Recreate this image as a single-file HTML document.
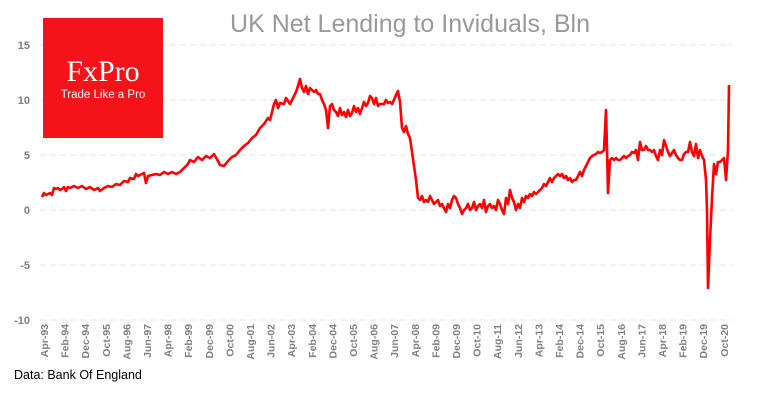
<!DOCTYPE html>
<html><head><meta charset="utf-8"><style>
body{margin:0;background:#fff;width:770px;height:400px;overflow:hidden;font-family:"Liberation Sans",sans-serif}
</style></head><body>
<svg width="770" height="400" xmlns="http://www.w3.org/2000/svg">
<g stroke="#e4e4e4" stroke-dasharray="6,4" stroke-width="1">
<line x1="40" y1="45" x2="732" y2="45"/><line x1="40" y1="100" x2="732" y2="100"/>
<line x1="40" y1="155" x2="732" y2="155"/><line x1="40" y1="210" x2="732" y2="210"/>
<line x1="40" y1="265" x2="732" y2="265"/><line x1="40" y1="320" x2="732" y2="320"/>
</g>
<g fill="#7f7f7f" font-size="11" font-weight="bold" text-anchor="end">
<text x="30" y="49">15</text><text x="30" y="104">10</text><text x="30" y="159">5</text>
<text x="30" y="214">0</text><text x="30" y="269">-5</text><text x="30" y="324">-10</text>
</g>
<text x="410" y="32" text-anchor="middle" font-size="25" fill="#999">UK Net Lending to Inviduals, Bln</text>
<polyline fill="none" stroke="#ff0000" stroke-width="2.6" stroke-linejoin="round" points="
42,197 44,193 46,195 48,194 50,193 52,195 54,188 56,189 58,188 60,190 62,189 64,187 66,191 68,187 70,188 74,186 78,188 82,186 86,189 90,187 94,190 98,188 100,191 104,188 108,186 112,187 116,184 120,185 124,181 128,182 130,178 134,179 136,174 138,176 140,175 144,173 146,183 148,176 152,175 156,174 160,175 164,172 168,174 172,172 176,174 180,172 184,168 188,164 190,160 194,162 198,157 202,160 206,156 210,158 214,154 218,161 220,165 224,166 228,161 232,157 236,155 240,150 244,146 248,143 252,138 256,135 260,128 264,124 268,118 270,120 272,112 274,104 276,100 278,108 280,103 284,104 286,98 290,104 294,96 296,92 298,86 300,79 302,88 304,92 306,86 308,94 310,88 312,90 314,92 316,90 318,94 320,94 322,100 324,104 326,110 328,128 330,106 332,104 334,110 336,112 338,116 340,108 342,115 344,112 346,117 348,110 350,116 352,113 354,106 356,112 358,108 360,114 362,108 364,102 366,106 368,103 370,96 372,98 374,104 376,98 378,106 380,104 384,104 386,100 388,103 390,102 392,104 394,100 396,95 398,91 400,102 402,128 404,132 406,126 408,134 410,138 412,152 414,166 416,180 418,198 420,200 422,196 424,202 426,200 428,202 430,196 432,200 434,204 436,202 438,200 440,206 442,204 444,208 446,212 448,204 450,208 452,200 454,196 456,198 458,204 460,208 462,214 464,210 466,208 468,204 470,210 472,208 474,202 476,210 478,206 480,204 482,208 484,200 486,212 488,206 490,204 492,208 494,206 496,210 498,200 500,204 502,210 504,214 506,198 508,204 510,190 512,198 514,202 516,210 518,204 520,208 522,198 524,202 526,196 528,198 530,194 532,196 534,192 536,194 538,192 540,190 542,188 544,184 546,186 548,182 550,178 552,182 554,178 556,176 558,174 560,176 562,174 564,178 566,176 568,180 570,178 572,182 574,180 576,180 578,176 580,172 582,176 584,170 586,166 588,162 590,158 592,156 594,155 596,154 598,152 600,153 602,152 604,150 606,110 607,150 608,193 610,160 612,158 614,160 616,158 618,160 620,160 622,158 624,156 626,158 628,156 630,155 632,152 634,153 636,150 638,160 640,142 642,150 644,150 646,146 648,150 650,150 652,152 654,150 656,156 658,160 660,150 662,155 664,140 666,146 668,152 670,156 672,153 674,150 676,155 678,158 680,160 682,160 684,154 686,152 688,152 690,142 692,152 694,156 696,144 698,158 700,150 702,156 704,160 706,180 707,210 708,288 710,240 712,198 714,164 716,174 718,162 720,162 722,160 724,158 726,180 728,150 729,85"/>
<text x="14" y="379" font-size="12.5" fill="#000">Data: Bank Of England</text>
<rect x="43" y="18" width="120" height="120" fill="#f31318"/>
<text x="103" y="81" text-anchor="middle" font-family="Liberation Serif,serif" font-size="30" fill="#fff">FxPro</text>
<text x="103" y="98" text-anchor="middle" font-size="11.5" fill="#fff">Trade Like a Pro</text>
<g fill="#7f7f7f" font-size="10.5" font-weight="bold" text-anchor="end">
<text transform="translate(48,324) rotate(-90)">Apr-93</text>
<text transform="translate(68.6,324) rotate(-90)">Feb-94</text>
<text transform="translate(89.2,324) rotate(-90)">Dec-94</text>
<text transform="translate(109.8,324) rotate(-90)">Oct-95</text>
<text transform="translate(130.4,324) rotate(-90)">Aug-96</text>
<text transform="translate(151,324) rotate(-90)">Jun-97</text>
<text transform="translate(171.6,324) rotate(-90)">Apr-98</text>
<text transform="translate(192.2,324) rotate(-90)">Feb-99</text>
<text transform="translate(212.8,324) rotate(-90)">Dec-99</text>
<text transform="translate(233.4,324) rotate(-90)">Oct-00</text>
<text transform="translate(254,324) rotate(-90)">Aug-01</text>
<text transform="translate(274.6,324) rotate(-90)">Jun-02</text>
<text transform="translate(295.2,324) rotate(-90)">Apr-03</text>
<text transform="translate(315.8,324) rotate(-90)">Feb-04</text>
<text transform="translate(336.4,324) rotate(-90)">Dec-04</text>
<text transform="translate(357,324) rotate(-90)">Oct-05</text>
<text transform="translate(377.6,324) rotate(-90)">Aug-06</text>
<text transform="translate(398.2,324) rotate(-90)">Jun-07</text>
<text transform="translate(418.8,324) rotate(-90)">Apr-08</text>
<text transform="translate(439.4,324) rotate(-90)">Feb-09</text>
<text transform="translate(460,324) rotate(-90)">Dec-09</text>
<text transform="translate(480.6,324) rotate(-90)">Oct-10</text>
<text transform="translate(501.2,324) rotate(-90)">Aug-11</text>
<text transform="translate(521.8,324) rotate(-90)">Jun-12</text>
<text transform="translate(542.4,324) rotate(-90)">Apr-13</text>
<text transform="translate(563,324) rotate(-90)">Feb-14</text>
<text transform="translate(583.6,324) rotate(-90)">Dec-14</text>
<text transform="translate(604.2,324) rotate(-90)">Oct-15</text>
<text transform="translate(624.8,324) rotate(-90)">Aug-16</text>
<text transform="translate(645.4,324) rotate(-90)">Jun-17</text>
<text transform="translate(666,324) rotate(-90)">Apr-18</text>
<text transform="translate(686.6,324) rotate(-90)">Feb-19</text>
<text transform="translate(707.2,324) rotate(-90)">Dec-19</text>
<text transform="translate(727.8,324) rotate(-90)">Oct-20</text>
</g>
</svg>
</body></html>
